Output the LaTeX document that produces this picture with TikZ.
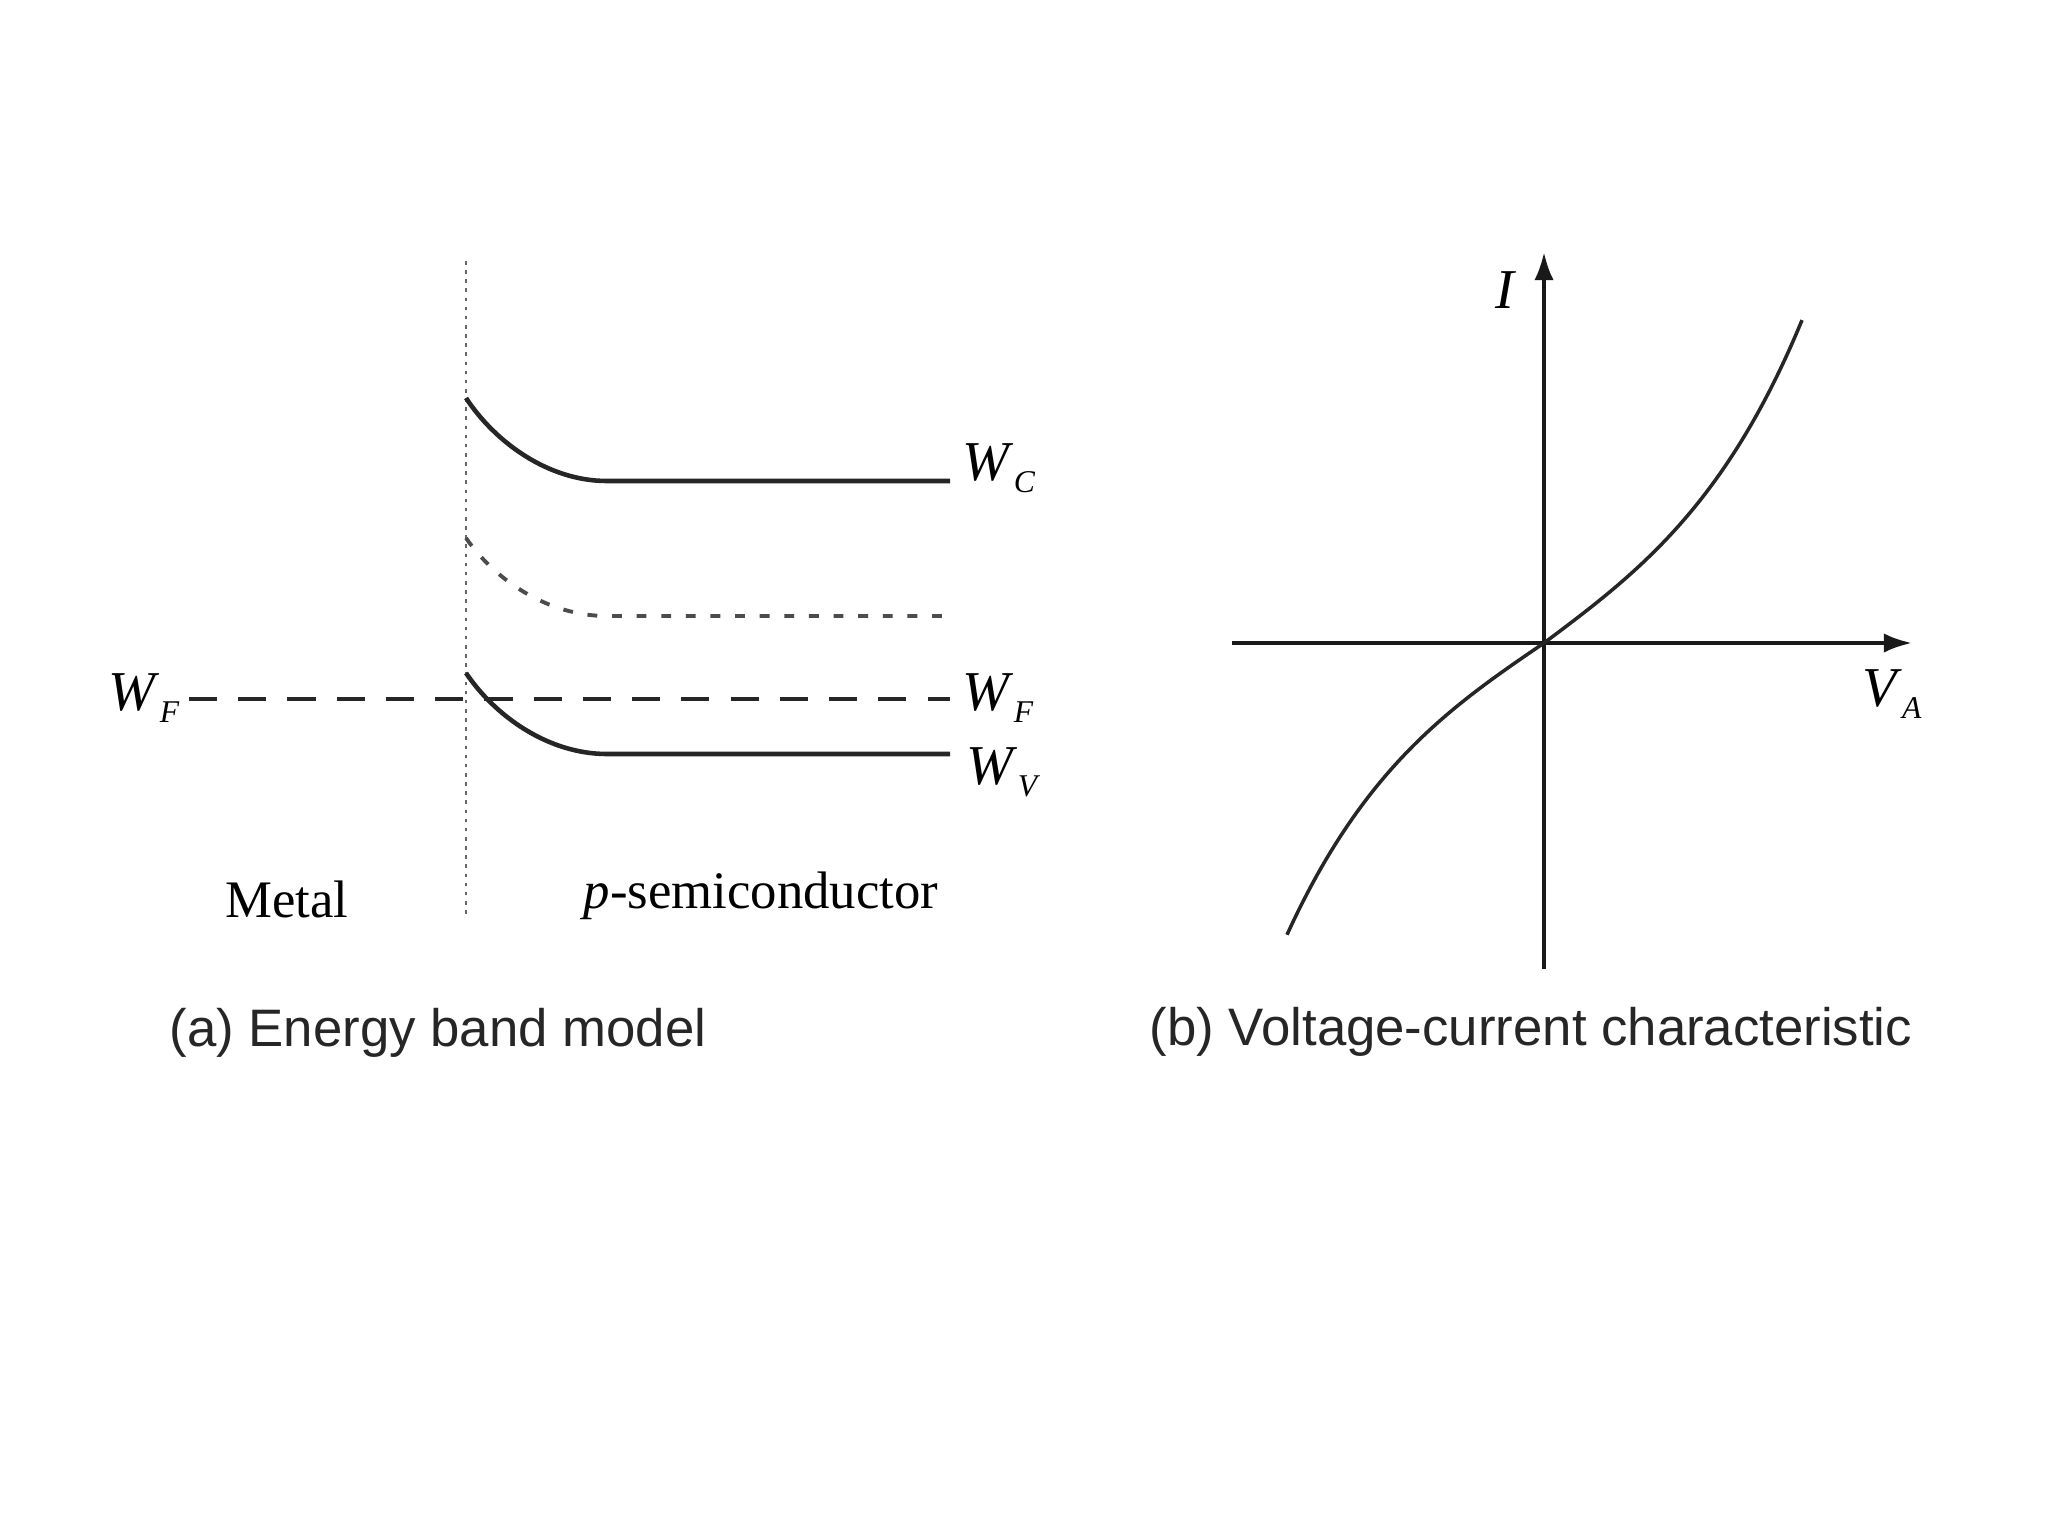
\documentclass[tikz,border=0pt]{standalone}
\usepackage{fontspec}
\setmainfont{Liberation Serif}
\newfontfamily\capfont{Liberation Sans}
\usetikzlibrary{arrows.meta}
\newcommand{\Wlab}[2]{\textit{#1}\raisebox{-0.45ex}{\fontsize{9}{10}\selectfont\itshape #2}}
\tikzset{
  band/.style={line width=1.3pt, draw=black!85},
  intr/.style={line width=1.1pt, draw=black!70, dash pattern=on 2.8pt off 4.2pt},
  fermi/.style={line width=1.2pt, draw=black!85, dash pattern=on 8pt off 6pt},
  iface/.style={line width=0.5pt, draw=black!60, dash pattern=on 1pt off 1.6pt},
  axisline/.style={line width=1.1pt, draw=black!90, -{Latex[length=8pt,width=5.5pt]}},
  ivcurve/.style={line width=1.0pt, draw=black!85},
  wlab/.style={font=\fontsize{16}{18}\selectfont, inner sep=0pt},
  txt/.style={font=\fontsize{15}{18}\selectfont, inner sep=0pt},
  captxt/.style={font=\capfont\fontsize{15}{18}\selectfont, inner sep=0pt, text=black!85}
}
\begin{document}
\begin{tikzpicture}[x=0.01cm, y=-0.01cm]
\useasboundingbox (0,0) rectangle (2048,1536);
% ---------- (a) energy band model ----------
\coordinate (ifTop) at (466,261);
\coordinate (ifBot) at (466,914);
\draw[iface] (ifTop) -- (ifBot);
% conduction band
\coordinate (c0) at (466,398);
\coordinate (c1) at (607,481);
\coordinate (c2) at (950,481);
\draw[band] (c0) .. controls (495,442) and (548,481) .. (c1) -- (c2);
\node[wlab, anchor=west] (WC) at (962,468) {\Wlab{W}{C}};
% intrinsic level
\coordinate (i0) at (466,538);
\coordinate (i1) at (607,616);
\coordinate (i2) at (950,616);
\draw[intr] (i0) .. controls (495,580) and (548,616) .. (i1) -- (i2);
% Fermi level
\coordinate (f0) at (189,699);
\coordinate (f1) at (950,699);
\draw[fermi] (f0) -- (f1);
\node[wlab, anchor=east] (WFl) at (180,698) {\Wlab{W}{F}};
\node[wlab, anchor=west] (WFr) at (962,698) {\Wlab{W}{F}};
% valence band
\coordinate (v0) at (466,673);
\coordinate (v1) at (607,754);
\coordinate (v2) at (950,754);
\draw[band] (v0) .. controls (495,716) and (548,754) .. (v1) -- (v2);
\node[wlab, anchor=west] (WV) at (966,772) {\Wlab{W}{V}};
% region labels
\node[txt] (metal) at (287,899) {Metal};
\node[txt] (psemi) at (761,896) {\textit{p}-semiconductor};
\node[captxt] (capa) at (438,1033) {(a) Energy band model};
% ---------- (b) I-V characteristic ----------
\coordinate (O) at (1544,643);
\coordinate (yb) at (1544,969);
\coordinate (yt) at (1544,252);
\coordinate (xl) at (1232,643);
\coordinate (xr) at (1912,643);
\draw[axisline] (yb) -- (yt);
\draw[axisline] (xl) -- (xr);
\node[wlab] (Ilab) at (1506,290) {\textit{I}};
\node[wlab] (VAlab) at (1892,694) {\Wlab{V}{A}};
\begin{scope}[shift={(O)}]
\draw[ivcurve] plot[domain=-257:0, samples=60, smooth] (\x, {-95.5*sinh(\x/140)});
\draw[ivcurve] plot[domain=0:258, samples=60, smooth] (\x, {-104.9*sinh(\x/140)});
\end{scope}
\node[captxt] (capb) at (1531,1032) {(b) Voltage-current characteristic};
\end{tikzpicture}
\end{document}
